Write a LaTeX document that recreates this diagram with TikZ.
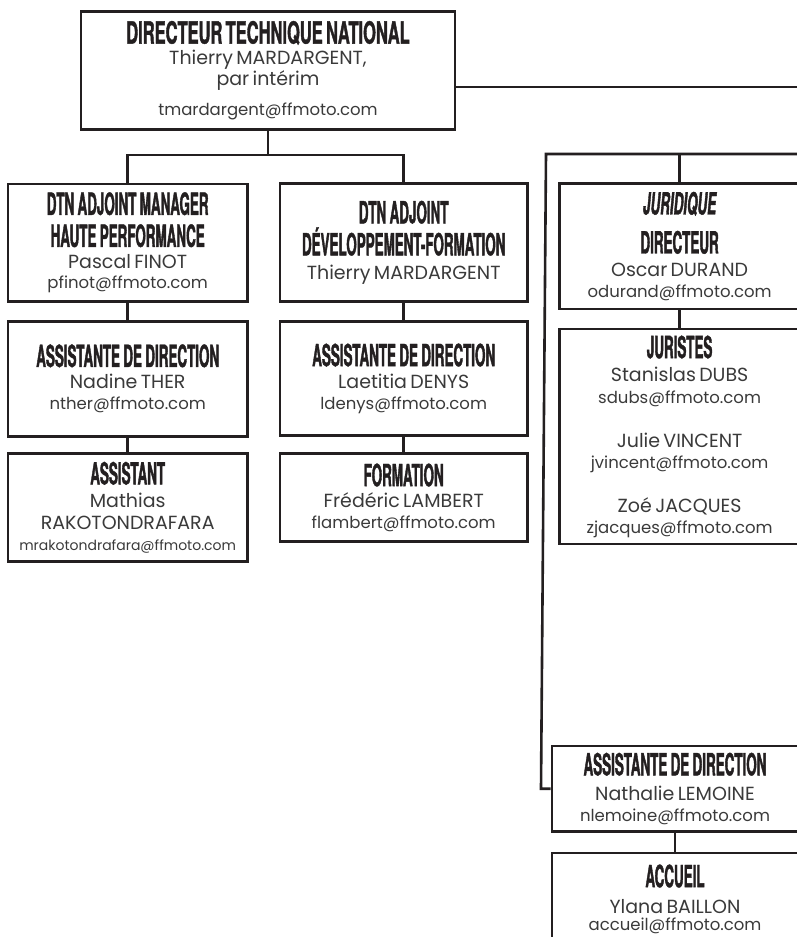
\documentclass[tikz,border=0pt]{standalone}
\usepackage{fontspec}
\setmainfont{Poppins}
\newfontfamily\headfont[FakeStretch=0.44,FakeBold=1.2,ItalicFont=texgyreheros-bolditalic.otf]{texgyreheros-bold.otf}
\newfontfamily\headwide[FakeStretch=0.54,FakeBold=1.2]{texgyreheros-bold.otf}

\definecolor{ink}{HTML}{231F20}
\definecolor{grey}{HTML}{3A3A3A}

% one line of a card, the optional value is the distance to the line above
\newcommand{\titl}[2][31]{{\headfont\color{ink}\fontsize{30.5}{#1}\selectfont #2\par}}
\newcommand{\titlw}[2][31]{{\headwide\color{ink}\fontsize{30.5}{#1}\selectfont #2\par}}
\newcommand{\who}[2][21]{{\fontsize{19}{#1}\selectfont #2\par}}
\newcommand{\mailto}[2][20]{{\fontsize{16.5}{#1}\selectfont #2\par}}

\begin{document}
\begin{tikzpicture}[x=1pt, y=-1pt,
    card/.style={draw=ink, line width=2.6pt, fill=white, inner sep=0pt,
      text=grey, align=center, text width=232pt,
      execute at begin node={\lineskiplimit=-100pt\relax}},
    link/.style={draw=ink, line width=2.6pt}]
    \path[use as bounding box, fill=white] (0,0) rectangle (797,937);
    \clip (0,0) rectangle (797,937);

    % Direction
    \node[card, text width=366pt, minimum width=374pt, minimum height=118.4pt] (dtn) at (268,70.5)
      {\titlw{DIRECTEUR TECHNIQUE NATIONAL}\who[21]{Thierry MARDARGENT,}\who[21]{par intérim}\mailto[30]{tmardargent@ffmoto.com}};

    % Haute performance
    \node[card, minimum width=239.5pt, minimum height=117.3pt] (hp) at (127.7,242.7)
      {\titl{DTN ADJOINT MANAGER}\titl[32]{HAUTE PERFORMANCE}\who[22]{Pascal FINOT}\mailto{pfinot@ffmoto.com}};
    \node[card, minimum width=239.5pt, minimum height=115pt] (hpasst) at (127.7,378.8)
      {\titl{ASSISTANTE DE DIRECTION}\who[22]{Nadine THER}\mailto[21]{nther@ffmoto.com}};
    \node[card, minimum width=239.5pt, minimum height=107.6pt] (asst) at (127.7,507.5)
      {\titl{ASSISTANT}\who[23]{Mathias}\who[22]{RAKOTONDRAFARA}\mailto[21]{\fontsize{14}{21}\selectfont mrakotondrafara@ffmoto.com}};

    % Developpement-formation
    \node[card, minimum width=247.3pt, minimum height=117.6pt] (df) at (403.7,242.5)
      {\titl{DTN ADJOINT}\titl[32]{DÉVELOPPEMENT-FORMATION}\who[24]{Thierry MARDARGENT}};
    \node[card, minimum width=247.3pt, minimum height=114.4pt] (dfasst) at (403.7,378.5)
      {\titl{ASSISTANTE DE DIRECTION}\who[22]{Laetitia DENYS}\mailto[21]{ldenys@ffmoto.com}};
    \node[card, minimum width=247.3pt, minimum height=87.6pt] (form) at (403.7,497.5)
      {\titl{FORMATION}\who[21]{Frédéric LAMBERT}\mailto[21]{flambert@ffmoto.com}};

    % Juridique
    \node[card, minimum width=240.7pt, minimum height=125.3pt] (jur) at (679.6,246.3)
      {{\headfont\itshape\color{ink}\fontsize{30.5}{31}\selectfont JURIDIQUE\par}\titl[39]{DIRECTEUR}\who[23]{Oscar DURAND}\mailto[21]{odurand@ffmoto.com}};
    \node[card, minimum width=240.7pt, minimum height=215pt] (juristes) at (679.6,436.5)
      {\titl{JURISTES}\who[23]{Stanislas DUBS}\mailto[22]{sdubs@ffmoto.com}\who[44]{Julie VINCENT}\mailto[21]{jvincent@ffmoto.com}\who[44]{Zoé JACQUES}\mailto[21]{zjacques@ffmoto.com}};

    % Secretariat
    \node[card, minimum width=246pt, minimum height=85.3pt] (dja) at (675,788.7)
      {\titl{ASSISTANTE DE DIRECTION}\who[25]{Nathalie LEMOINE}\mailto[21]{nlemoine@ffmoto.com}};
    \node[card, minimum width=246pt, minimum height=92pt] (acc) at (675,899)
      {\titl{ACCUEIL}\who[26]{Ylana BAILLON}\mailto[17]{accueil@ffmoto.com}};

    % Links
    \coordinate (outA) at (810,87);
    \coordinate (outB) at (810,154);
    \coordinate (trunk) at (546,154);
    \coordinate (trunkEnd) at (541,788.7);
    \draw[link] (dtn.south) -- ++(0,24) -| (hp.north);
    \draw[link] (dtn.south) -- ++(0,24) -| (df.north);
    \draw[link] ([yshift=-16.5pt]dtn.east) -- (outA);
    \draw[link] (outB) -- (trunk) -- (trunkEnd) -- (dja.west);
    \draw[link] (jur.north) -- (jur.north |- trunk);
    \draw[link] (hp) -- (hpasst);
    \draw[link] (hpasst) -- (asst);
    \draw[link] (df) -- (dfasst);
    \draw[link] (dfasst) -- (form);
    \draw[link] (jur) -- (juristes);
    \draw[link] (dja) -- (acc);
\end{tikzpicture}
\end{document}
